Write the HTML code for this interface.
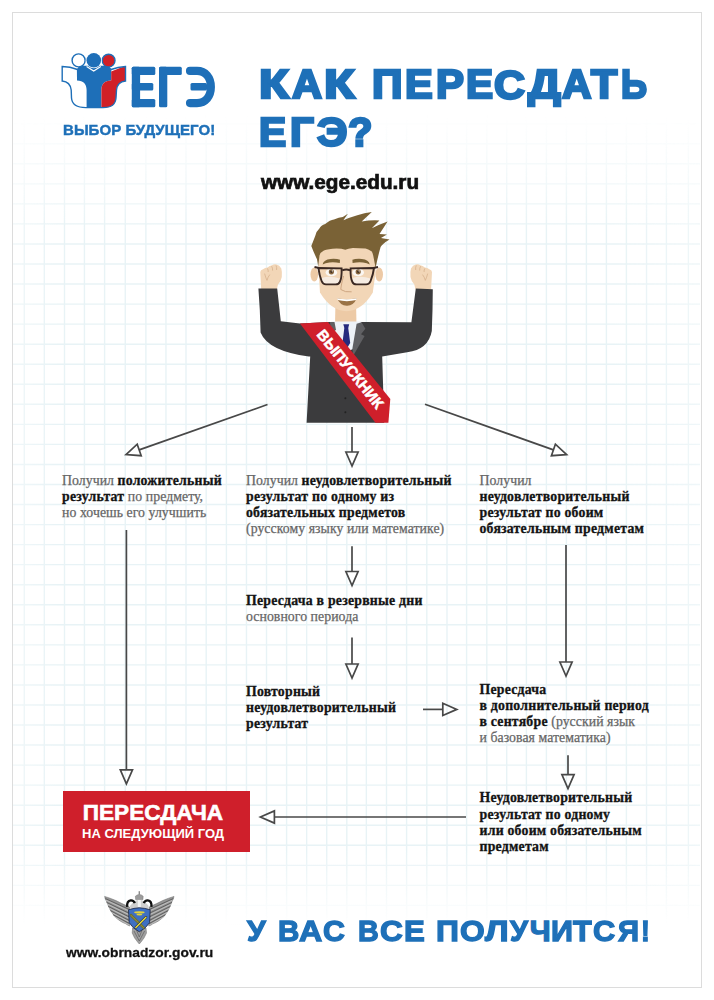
<!DOCTYPE html>
<html><head><meta charset="utf-8"><title>Как пересдать ЕГЭ?</title>
<style>
*{margin:0;padding:0;box-sizing:border-box}
html,body{width:714px;height:1000px;overflow:hidden;background:#fff}
body{position:relative;font-family:"Liberation Sans",sans-serif}
.abs{position:absolute;left:0;top:0}
.frame{position:absolute;left:12px;top:12px;width:690px;height:976px;border:1px solid #dcdcdc}
.t{position:absolute;white-space:nowrap}
.blue{color:#1e70b8}
.sans{font-family:"Liberation Sans",sans-serif;font-weight:700}
.ser{font-family:"Liberation Serif",serif;color:#666;letter-spacing:0.05px;-webkit-text-stroke:0.25px #666}
.ser b{color:#141414;font-weight:700;letter-spacing:0.22px;-webkit-text-stroke:0.3px #141414}
</style></head>
<body>
<svg class="abs" width="714" height="1000" viewBox="0 0 714 1000"><defs><linearGradient id="gv" x1="0" y1="0" x2="0" y2="1000" gradientUnits="userSpaceOnUse"><stop offset="0.115" stop-color="#fff" stop-opacity="0"/><stop offset="0.23" stop-color="#fff" stop-opacity="1"/><stop offset="0.85" stop-color="#fff" stop-opacity="1"/><stop offset="0.925" stop-color="#fff" stop-opacity="0"/></linearGradient><linearGradient id="gh" x1="0" y1="0" x2="714" y2="0" gradientUnits="userSpaceOnUse"><stop offset="0.0" stop-color="#fff" stop-opacity="0.55"/><stop offset="0.08" stop-color="#fff" stop-opacity="1"/><stop offset="0.86" stop-color="#fff" stop-opacity="1"/><stop offset="0.98" stop-color="#fff" stop-opacity="0.7"/></linearGradient><mask id="gm" maskUnits="userSpaceOnUse" x="0" y="0" width="714" height="1000"><rect x="0" y="0" width="714" height="1000" fill="url(#gv)"/></mask><mask id="gm2" maskUnits="userSpaceOnUse" x="0" y="0" width="714" height="1000"><rect x="0" y="0" width="714" height="1000" fill="url(#gh)"/></mask></defs><g mask="url(#gm)"><g mask="url(#gm2)" stroke="#e8f3f6" stroke-width="1.4"><line x1="24.30" y1="13" x2="24.30" y2="986"/><line x1="44.30" y1="13" x2="44.30" y2="986"/><line x1="64.50" y1="13" x2="64.50" y2="986"/><line x1="84.45" y1="13" x2="84.45" y2="986"/><line x1="104.60" y1="13" x2="104.60" y2="986"/><line x1="125.25" y1="13" x2="125.25" y2="986"/><line x1="145.90" y1="13" x2="145.90" y2="986"/><line x1="165.95" y1="13" x2="165.95" y2="986"/><line x1="186.00" y1="13" x2="186.00" y2="986"/><line x1="206.20" y1="13" x2="206.20" y2="986"/><line x1="226.40" y1="13" x2="226.40" y2="986"/><line x1="246.47" y1="13" x2="246.47" y2="986"/><line x1="266.53" y1="13" x2="266.53" y2="986"/><line x1="286.60" y1="13" x2="286.60" y2="986"/><line x1="306.67" y1="13" x2="306.67" y2="986"/><line x1="326.73" y1="13" x2="326.73" y2="986"/><line x1="346.80" y1="13" x2="346.80" y2="986"/><line x1="366.35" y1="13" x2="366.35" y2="986"/><line x1="386.50" y1="13" x2="386.50" y2="986"/><line x1="406.60" y1="13" x2="406.60" y2="986"/><line x1="426.80" y1="13" x2="426.80" y2="986"/><line x1="447.00" y1="13" x2="447.00" y2="986"/><line x1="466.60" y1="13" x2="466.60" y2="986"/><line x1="486.80" y1="13" x2="486.80" y2="986"/><line x1="506.70" y1="13" x2="506.70" y2="986"/><line x1="526.40" y1="13" x2="526.40" y2="986"/><line x1="546.40" y1="13" x2="546.40" y2="986"/><line x1="566.40" y1="13" x2="566.40" y2="986"/><line x1="586.40" y1="13" x2="586.40" y2="986"/><line x1="606.40" y1="13" x2="606.40" y2="986"/><line x1="626.40" y1="13" x2="626.40" y2="986"/><line x1="646.55" y1="13" x2="646.55" y2="986"/><line x1="666.40" y1="13" x2="666.40" y2="986"/><line x1="688.40" y1="13" x2="688.40" y2="986"/><line x1="13" y1="23.48" x2="700" y2="23.48"/><line x1="13" y1="43.53" x2="700" y2="43.53"/><line x1="13" y1="63.57" x2="700" y2="63.57"/><line x1="13" y1="83.62" x2="700" y2="83.62"/><line x1="13" y1="103.66" x2="700" y2="103.66"/><line x1="13" y1="123.70" x2="700" y2="123.70"/><line x1="13" y1="143.75" x2="700" y2="143.75"/><line x1="13" y1="163.79" x2="700" y2="163.79"/><line x1="13" y1="183.84" x2="700" y2="183.84"/><line x1="13" y1="203.88" x2="700" y2="203.88"/><line x1="13" y1="223.92" x2="700" y2="223.92"/><line x1="13" y1="243.97" x2="700" y2="243.97"/><line x1="13" y1="264.01" x2="700" y2="264.01"/><line x1="13" y1="284.06" x2="700" y2="284.06"/><line x1="13" y1="304.10" x2="700" y2="304.10"/><line x1="13" y1="324.14" x2="700" y2="324.14"/><line x1="13" y1="344.19" x2="700" y2="344.19"/><line x1="13" y1="364.23" x2="700" y2="364.23"/><line x1="13" y1="384.28" x2="700" y2="384.28"/><line x1="13" y1="404.32" x2="700" y2="404.32"/><line x1="13" y1="424.36" x2="700" y2="424.36"/><line x1="13" y1="444.41" x2="700" y2="444.41"/><line x1="13" y1="464.45" x2="700" y2="464.45"/><line x1="13" y1="484.50" x2="700" y2="484.50"/><line x1="13" y1="504.54" x2="700" y2="504.54"/><line x1="13" y1="524.58" x2="700" y2="524.58"/><line x1="13" y1="544.63" x2="700" y2="544.63"/><line x1="13" y1="564.67" x2="700" y2="564.67"/><line x1="13" y1="584.72" x2="700" y2="584.72"/><line x1="13" y1="604.76" x2="700" y2="604.76"/><line x1="13" y1="624.80" x2="700" y2="624.80"/><line x1="13" y1="644.85" x2="700" y2="644.85"/><line x1="13" y1="664.89" x2="700" y2="664.89"/><line x1="13" y1="684.94" x2="700" y2="684.94"/><line x1="13" y1="704.98" x2="700" y2="704.98"/><line x1="13" y1="725.02" x2="700" y2="725.02"/><line x1="13" y1="745.07" x2="700" y2="745.07"/><line x1="13" y1="765.11" x2="700" y2="765.11"/><line x1="13" y1="785.16" x2="700" y2="785.16"/><line x1="13" y1="805.20" x2="700" y2="805.20"/><line x1="13" y1="825.24" x2="700" y2="825.24"/><line x1="13" y1="845.29" x2="700" y2="845.29"/><line x1="13" y1="865.33" x2="700" y2="865.33"/><line x1="13" y1="885.38" x2="700" y2="885.38"/><line x1="13" y1="905.42" x2="700" y2="905.42"/><line x1="13" y1="925.46" x2="700" y2="925.46"/></g></g></svg>
<div class="frame"></div>
<svg class="abs" width="714" height="1000" viewBox="0 0 714 1000"><g stroke="#484848" stroke-width="1.7" fill="none" stroke-linejoin="miter"><line x1="267.5" y1="404.5" x2="139.2" y2="449.9"/><polygon points="126.0,454.6 137.2,444.2 141.2,455.7"/><line x1="352" y1="427" x2="352.0" y2="452.0"/><polygon points="352.0,466.0 345.9,452.0 358.1,452.0"/><line x1="425" y1="404.3" x2="553.4" y2="449.9"/><polygon points="566.6,454.6 551.4,455.7 555.4,444.2"/><line x1="126.4" y1="530" x2="126.4" y2="769.8"/><polygon points="126.4,783.8 120.3,769.8 132.5,769.8"/><line x1="352" y1="546.3" x2="352.0" y2="571.5"/><polygon points="352.0,585.5 345.9,571.5 358.1,571.5"/><line x1="352" y1="637.5" x2="352.0" y2="664.0"/><polygon points="352.0,678.0 345.9,664.0 358.1,664.0"/><line x1="566" y1="545" x2="566.0" y2="662.0"/><polygon points="566.0,676.0 559.9,662.0 572.1,662.0"/><line x1="423" y1="709.4" x2="442.8" y2="709.4"/><polygon points="456.8,709.4 442.8,715.5 442.8,703.3"/><line x1="568" y1="755.3" x2="568.0" y2="774.6"/><polygon points="568.0,788.6 561.9,774.6 574.1,774.6"/><line x1="466" y1="817" x2="274.4" y2="817.0"/><polygon points="260.4,817.0 274.4,810.9 274.4,823.1"/></g></svg>

<svg class="abs" width="714" height="1000" viewBox="0 0 714 1000">
<!-- fists -->
<path d="M261.2 289.5 L260.3 272 Q260.5 269.6 263 269.2 Q265 267.6 267.5 267.6 Q269.5 265.6 272 265.2 Q274 263.8 276.5 264.4 Q279.6 265 281.3 268.5 Q282.3 272 281.8 277 Q281 281.5 278 284.5 L276.8 289.5 Z" fill="#f2d6b7"/>
<path d="M264.6 273.6 Q265.6 277.5 267 280.4 Q267.8 277 269.8 274.6 M267.4 268.4 Q268.4 270 268.2 272 M271.6 266.2 Q272.8 268 272.6 270.6 M276 265.4 Q277 267.4 276.6 270" stroke="#d2ac86" stroke-width="0.7" fill="none"/>
<path d="M 431.1 289.5 L 432.0 272.0 Q 431.8 269.6 429.3 269.2 Q 427.3 267.6 424.8 267.6 Q 422.8 265.6 420.3 265.2 Q 418.3 263.8 415.8 264.4 Q 412.7 265.0 411.0 268.5 Q 410.0 272.0 410.5 277.0 Q 411.3 281.5 414.3 284.5 L 415.5 289.5 Z" fill="#f2d6b7"/>
<path d="M 427.7 273.6 Q 426.7 277.5 425.3 280.4 Q 424.5 277.0 422.5 274.6 M 424.9 268.4 Q 423.9 270.0 424.1 272.0 M 420.7 266.2 Q 419.5 268.0 419.7 270.6 M 416.3 265.4 Q 415.3 267.4 415.7 270.0" stroke="#d2ac86" stroke-width="0.7" fill="none"/>
<!-- neck -->
<path d="M335.5 300 L356 300 L356.5 326 L335 326 Z" fill="#edcaa6"/>
<!-- suit -->
<path d="M258.4 288.4 L277.2 288.4 L280.8 321.3 L300 323.6 L330 322 L362 322 L411.4 322.2 L415.8 288.6 L432.8 289.2 L432.5 310 L431.8 331 Q428.5 349.5 407.2 352.3 L382.2 356.4 L384.2 422.8 L306.6 422.8 L310.2 356.4 L308.8 356.4 Q268 351 260.6 332.4 L259.8 310 Z" fill="#3b3b3d"/>
<!-- shirt -->
<path d="M331 321.5 L361.5 321.5 L353 349 L346.5 352 L334 338 Z" fill="#eef2f7"/>
<!-- tie -->
<path d="M343.3 324.3 L349.2 324.3 L348.2 328 L344.4 328 Z" fill="#252a7e"/>
<path d="M344.4 327.6 L348.2 327.6 L350.2 343 L346.5 349 L342.4 343 Z" fill="#252a7e"/>
<!-- lapels -->
<path d="M356.6 323.8 L361.5 322.2 L365.4 328.8 L361 334.2 L364.6 336 L353.2 355.8 L352.4 348.6 Z" fill="#606063"/>
<path d="M330 322 L334.5 322 L336 330 L331 333 Z" fill="#606063"/>
<!-- sash -->
<path d="M299.9 323.4 L327.9 322 L390.3 399 L388.4 422.8 L375.4 422.8 Z" fill="#cf1f2b"/>
<text x="0" y="0" transform="translate(350.6 368.8) rotate(51.2)" text-anchor="middle" dominant-baseline="central" font-family="Liberation Sans" font-weight="700" font-size="15" fill="#fff" stroke="#fff" stroke-width="0.5">ВЫПУСКНИК</text>
<!-- buttons -->
<circle cx="345.4" cy="398.3" r="1" fill="#222"/>
<circle cx="345.4" cy="412.3" r="1" fill="#222"/>
<!-- ears -->
<ellipse cx="314.3" cy="274.5" rx="3.8" ry="7" fill="#edcaa6"/>
<ellipse cx="379.2" cy="274.5" rx="3.8" ry="7" fill="#edcaa6"/>
<!-- face -->
<path d="M318 244 L318.6 272 L320 292.5 Q331 310.8 346.5 311.2 Q362 310.8 372.8 292.5 L375.6 272 L376 244 Z" fill="#f2d6b7"/>
<!-- hair -->
<path d="M311.3 246 L315.2 236.1 Q316.5 231 319.4 228.6 Q321 225 325.2 223.9 Q330 220 334 219.5 Q339 217 342.8 217 L347.9 213.8 L343.4 220.3 Q357 214 371.8 211.9 L361.7 221.4 Q371 220 379.4 220.5 L371.8 228.3 Q380 224 387.6 221.4 L379.5 234 L386.9 234.6 L381 238 L389.5 239.5 Q382 244 380.6 247 Q378 256 375.6 268 L373.7 258 Q372.8 253 371.8 251.6 Q368 248.8 365.5 248.5 L352.9 247.9 Q348 248.5 345.3 249.8 Q342 248.5 336.5 248.5 Q328 249 323.9 250.4 Q320.5 252 319.5 255.4 L318.2 266.8 Q317.5 262 317 259.2 Q313.5 252 311.3 246 Z" fill="#7a6236"/>
<!-- eyebrows -->
<path d="M322.6 264.4 Q323.6 259.6 330.6 258.9 Q337 258.5 340 259.8 L339.8 263 Q334.5 262 329.4 262.5 Q325.2 263.1 322.6 264.4 Z" fill="#7a6236"/>
<path d="M 369.8 264.4 Q 368.8 259.6 361.8 258.9 Q 355.4 258.5 352.4 259.8 L 352.6 263.0 Q 357.9 262.0 363.0 262.5 Q 367.2 263.1 369.8 264.4 Z" fill="#7a6236"/>
<!-- eyes -->
<path d="M321.5 278 Q330 275.5 339.8 278.5 L339.2 282.5 Q338 284 335.6 284 L326 284 Q323 284 322 281 Z" fill="#f6ece2"/>
<path d="M352.5 278 Q361 275.5 370.6 278.5 L370 281 Q369 284 366.2 284 L356.6 284 Q354 284 353 282.5 Z" fill="#f6ece2"/>
<ellipse cx="331.4" cy="272.4" rx="5.8" ry="3.9" fill="#fbf7f2"/>
<ellipse cx="358.2" cy="272.4" rx="5.8" ry="3.9" fill="#fbf7f2"/>
<circle cx="331.4" cy="271.8" r="2.6" fill="#86653f"/>
<circle cx="358.2" cy="271.8" r="2.6" fill="#86653f"/>
<circle cx="331.4" cy="271.8" r="1.1" fill="#3a2a1e"/>
<circle cx="358.2" cy="271.8" r="1.1" fill="#3a2a1e"/>
<circle cx="332.3" cy="270.9" r="0.6" fill="#fff"/>
<circle cx="359.1" cy="270.9" r="0.6" fill="#fff"/>
<!-- glasses -->
<g fill="none" stroke="#3a2822" stroke-width="1.9">
<path d="M318.4 268 L341.6 268.4 C341.8 274 341.2 279.5 339.8 282 C339 283.8 337.6 284.4 335.6 284.4 L326 284.4 C323.6 284.4 322.4 283.2 321.6 281 C320 277 319 272.5 318.4 268 Z"/>
<path d="M374 268 L350.6 268.4 C350.4 274 351 279.5 352.4 282 C353.2 283.8 354.6 284.4 356.6 284.4 L366.2 284.4 C368.6 284.4 369.8 283.2 370.6 281 C372.2 277 373.4 272.5 374 268 Z"/>
<path d="M342.2 270.4 Q346.2 268.6 350.2 270.4"/>
<path d="M319 268 L314.5 267"/>
<path d="M373.6 268 L378 267"/>
</g>
<!-- nose -->
<path d="M343.6 276 Q341 285 340.8 289.5 Q345 292.6 351.6 291.8" fill="none" stroke="#c9a07c" stroke-width="0.9"/>
<!-- mouth -->
<path d="M337 298.3 Q346.8 300.3 356.8 298.3 Q353.5 306 346.8 305.8 Q340 305.6 337 298.3 Z" fill="#9a7346"/>
<path d="M337 298.3 Q346.8 300.3 356.8 298.3 L356.2 300 Q346.8 302.3 337.6 300 Z" fill="#fff"/>
</svg>

<svg class="abs" width="714" height="1000" viewBox="0 0 714 1000">
<defs><clipPath id="lsil"><path d="M62.2 66.5 C67 66.6 73 67.8 77.5 69.5 L80 66.5 L108 66.5 L111 69.5 C115 68 120 66.8 125.5 66.5 L125.5 81 C121 81.5 117 84 116.5 90 L116 98 C115.5 104.5 112 107.6 103 107.6 L86 107.6 C78 107.6 72 105 71.5 98 L71.2 90 C70.5 84 67 81.5 62.2 81 Z"/></clipPath></defs>
<path d="M62.2 66.5 C67 66.6 73 67.8 77.5 69.5 L80 66.5 L108 66.5 L111 69.5 C115 68 120 66.8 125.5 66.5 L125.5 81 C121 81.5 117 84 116.5 90 L116 98 C115.5 104.5 112 107.6 103 107.6 L86 107.6 C78 107.6 72 105 71.5 98 L71.2 90 C70.5 84 67 81.5 62.2 81 Z" fill="#fff"/>
<g clip-path="url(#lsil)">
<path d="M76.8 60 L111.5 60 L111.2 80.5 C104.5 80.8 101.4 84 101.4 90 L101.4 110 L86.6 110 L86.6 90 C86.6 84 83.5 80.8 77 80.5 Z" fill="#1e6fb8"/>
<path d="M111.2 71.5 L130 64 L130 110 L101.4 110 L101.4 90 C101.4 84 104.5 80.8 111.2 80.5 Z" fill="#d02027"/>
</g>
<path d="M62.2 66.5 C67 66.6 73 67.8 77.5 69.5 L80 66.5 L108 66.5 L111 69.5 C115 68 120 66.8 125.5 66.5 L125.5 81 C121 81.5 117 84 116.5 90 L116 98 C115.5 104.5 112 107.6 103 107.6 L86 107.6 C78 107.6 72 105 71.5 98 L71.2 90 C70.5 84 67 81.5 62.2 81 Z" fill="none" stroke="#1e6fb8" stroke-width="1.4"/>
<path d="M86.6 66.6 L93.7 71 L100.8 66.6" fill="none" stroke="#fff" stroke-width="1.2"/>
<circle cx="78.6" cy="60.4" r="6.5" fill="#fff" stroke="#1e6fb8" stroke-width="1.4"/>
<circle cx="108.6" cy="60.6" r="6.4" fill="#d02027" stroke="#1e6fb8" stroke-width="1.4"/>
<circle cx="93.8" cy="60.3" r="7.9" fill="#fff"/>
<circle cx="93.8" cy="60.3" r="7.3" fill="#1e6fb8"/>
<!-- ЕГЭ -->
<g fill="#1e6fb8">
<rect x="131.8" y="66.8" width="8.3" height="40.4" rx="1.5"/>
<rect x="131.8" y="66.8" width="23.5" height="8.1" rx="1.5"/>
<rect x="131.8" y="83" width="21.5" height="7.6" rx="1.5"/>
<rect x="131.8" y="99.1" width="23.5" height="8.1" rx="1.5"/>
<rect x="159" y="66.8" width="8.3" height="40.4" rx="1.5"/>
<rect x="159" y="66.8" width="22.8" height="8.1" rx="1.5"/>
<rect x="190.5" y="83" width="16.5" height="7.6" rx="1.5"/>
</g>
<path d="M190 70.9 L197 70.9 C205.5 70.9 210.9 77.5 210.9 87 C210.9 96.5 205.5 103.1 197 103.1 L190 103.1" fill="none" stroke="#1e6fb8" stroke-width="8.1" stroke-linecap="round"/>
</svg>
<svg class="abs" width="714" height="1000" viewBox="0 0 714 1000"><polygon points="104.6,896.4 110.0,898.2 116.0,900.6 122.0,903.6 129.5,907.0 129.8,926.0 127.5,925.0 125.8,923.8 123.0,922.6 120.2,921.0 117.5,919.0 114.6,916.4 112.3,913.2 110.0,909.6 108.3,905.8 106.7,901.8 105.3,899.0" fill="#959595" stroke="#6a6a6a" stroke-width="0.5"/><line x1="105.4" y1="898.6" x2="129.5" y2="909.6" stroke="#5a5a5a" stroke-width="0.9"/><line x1="106.0" y1="900.2" x2="129.5" y2="911.2" stroke="#d8d8d8" stroke-width="0.6"/><line x1="106.6" y1="902.4" x2="129.5" y2="913.4" stroke="#5a5a5a" stroke-width="0.9"/><line x1="107.2" y1="904.0" x2="129.5" y2="915.0" stroke="#d8d8d8" stroke-width="0.6"/><line x1="108.2" y1="906.4" x2="129.5" y2="917" stroke="#5a5a5a" stroke-width="0.9"/><line x1="108.8" y1="908.0" x2="129.5" y2="918.6" stroke="#d8d8d8" stroke-width="0.6"/><line x1="110.4" y1="910.6" x2="129.5" y2="920.6" stroke="#5a5a5a" stroke-width="0.9"/><line x1="111.0" y1="912.2" x2="129.5" y2="922.2" stroke="#d8d8d8" stroke-width="0.6"/><line x1="113.2" y1="914.8" x2="129.5" y2="923.6" stroke="#5a5a5a" stroke-width="0.9"/><line x1="113.8" y1="916.4" x2="129.5" y2="925.2" stroke="#d8d8d8" stroke-width="0.6"/><polygon points="174.0,896.4 168.6,898.2 162.6,900.6 156.6,903.6 149.1,907.0 148.8,926.0 151.1,925.0 152.8,923.8 155.6,922.6 158.4,921.0 161.1,919.0 164.0,916.4 166.3,913.2 168.6,909.6 170.3,905.8 171.9,901.8 173.3,899.0" fill="#959595" stroke="#6a6a6a" stroke-width="0.5"/><line x1="173.2" y1="898.6" x2="149.1" y2="909.6" stroke="#5a5a5a" stroke-width="0.9"/><line x1="172.6" y1="900.2" x2="149.1" y2="911.2" stroke="#d8d8d8" stroke-width="0.6"/><line x1="172.0" y1="902.4" x2="149.1" y2="913.4" stroke="#5a5a5a" stroke-width="0.9"/><line x1="171.4" y1="904.0" x2="149.1" y2="915.0" stroke="#d8d8d8" stroke-width="0.6"/><line x1="170.4" y1="906.4" x2="149.1" y2="917" stroke="#5a5a5a" stroke-width="0.9"/><line x1="169.8" y1="908.0" x2="149.1" y2="918.6" stroke="#d8d8d8" stroke-width="0.6"/><line x1="168.2" y1="910.6" x2="149.1" y2="920.6" stroke="#5a5a5a" stroke-width="0.9"/><line x1="167.6" y1="912.2" x2="149.1" y2="922.2" stroke="#d8d8d8" stroke-width="0.6"/><line x1="165.4" y1="914.8" x2="149.1" y2="923.6" stroke="#5a5a5a" stroke-width="0.9"/><line x1="164.8" y1="916.4" x2="149.1" y2="925.2" stroke="#d8d8d8" stroke-width="0.6"/>
<!-- tail -->
<path d="M132.6 928 L146 928 L146.5 933 L144 938 L141 942 L139.3 944 L137.6 942 L134.6 938 L132.2 933 Z" fill="#a0a0a0" stroke="#6a6a6a" stroke-width="0.5"/>
<path d="M134 931 L139.3 941 L144.6 931 M136.5 930 L139.3 937 L142.1 930" stroke="#5f5f5f" stroke-width="0.7" fill="none"/>
<!-- neck / chest -->
<path d="M130 906 Q134 901 137.2 900 L141.4 900 Q144.6 901 148.6 906 L148 910 L130.6 910 Z" fill="#cfcfcf"/>
<!-- heads -->
<path d="M127.2 906.8 Q126.6 900.9 130.8 900.3 Q133.8 900.2 134.8 903.2" fill="none" stroke="#111" stroke-width="2.3"/>
<path d="M151.4 906.8 Q152 900.9 147.8 900.3 Q144.8 900.2 143.8 903.2" fill="none" stroke="#111" stroke-width="2.3"/>
<!-- crown -->
<path d="M135.6 899.5 L135.4 896.2 Q137 894.6 139.3 894.4 Q141.6 894.6 143.2 896.2 L143 899.5 Z" fill="#9c9c9c" stroke="#666" stroke-width="0.4"/>
<rect x="138.6" y="891.2" width="1.4" height="3.6" fill="#8a8a8a"/>
<rect x="137.8" y="900" width="3" height="7" fill="#f4f4f4"/>
<!-- shield -->
<path d="M128.5 909.8 Q134 908 139.3 907.8 Q144.6 908 150.2 909.8 L149.6 922.6 Q146 928.5 139.3 931.8 Q132.6 928.5 129.2 922.6 Z" fill="#3f70c2" stroke="#1c2540" stroke-width="0.8"/>
<ellipse cx="139.4" cy="912.4" rx="5.2" ry="1.1" fill="#e4d43a"/>
<ellipse cx="139.4" cy="914.6" rx="3" ry="0.9" fill="#e4d43a"/>
<line x1="131" y1="915.2" x2="143.6" y2="927.6" stroke="#6b6a2a" stroke-width="2.6" stroke-linecap="round"/>
<line x1="131" y1="915.2" x2="143.6" y2="927.6" stroke="#8b8a3a" stroke-width="1.2" stroke-linecap="round"/>
<line x1="146" y1="917.2" x2="135.8" y2="927.4" stroke="#1c2540" stroke-width="2.4" stroke-linecap="round"/>
<line x1="146" y1="917.2" x2="135.8" y2="927.4" stroke="#eee23a" stroke-width="1.4" stroke-linecap="round"/>
</svg>
<div class="t sans" style="left:259.19px;top:64.15px;font-size:40.7px;line-height:40.7px;color:#1e70b8;-webkit-text-stroke:2.5px #1e70b8;transform:scaleX(1.2039);transform-origin:0 0;">К</div>
<div class="t sans" style="left:292.47px;top:64.15px;font-size:40.7px;line-height:40.7px;color:#1e70b8;-webkit-text-stroke:2.5px #1e70b8;transform:scaleX(1.0211);transform-origin:0 0;">А</div>
<div class="t sans" style="left:323.75px;top:64.15px;font-size:40.7px;line-height:40.7px;color:#1e70b8;-webkit-text-stroke:2.5px #1e70b8;transform:scaleX(1.2353);transform-origin:0 0;">К</div>
<div class="t sans" style="left:372.03px;top:64.15px;font-size:40.7px;line-height:40.7px;color:#1e70b8;-webkit-text-stroke:2.5px #1e70b8;transform:scaleX(1.0438);transform-origin:0 0;">П</div>
<div class="t sans" style="left:404.77px;top:64.15px;font-size:40.7px;line-height:40.7px;color:#1e70b8;-webkit-text-stroke:2.5px #1e70b8;transform:scaleX(1.0218);transform-origin:0 0;">Е</div>
<div class="t sans" style="left:435.75px;top:64.15px;font-size:40.7px;line-height:40.7px;color:#1e70b8;-webkit-text-stroke:2.5px #1e70b8;transform:scaleX(1.0314);transform-origin:0 0;">Р</div>
<div class="t sans" style="left:466.00px;top:64.15px;font-size:40.7px;line-height:40.7px;color:#1e70b8;-webkit-text-stroke:2.5px #1e70b8;transform:scaleX(0.9980);transform-origin:0 0;">Е</div>
<div class="t sans" style="left:494.47px;top:64.65px;font-size:40.7px;line-height:40.7px;color:#1e70b8;-webkit-text-stroke:2.5px #1e70b8;transform:scaleX(1.0564);transform-origin:0 0;">С</div>
<div class="t sans" style="left:528.13px;top:64.15px;font-size:40.7px;line-height:40.7px;color:#1e70b8;-webkit-text-stroke:2.5px #1e70b8;transform:scaleX(1.1311);transform-origin:0 0;">Д</div>
<div class="t sans" style="left:562.05px;top:64.15px;font-size:40.7px;line-height:40.7px;color:#1e70b8;-webkit-text-stroke:2.5px #1e70b8;transform:scaleX(1.0016);transform-origin:0 0;">А</div>
<div class="t sans" style="left:590.79px;top:64.15px;font-size:40.7px;line-height:40.7px;color:#1e70b8;-webkit-text-stroke:2.5px #1e70b8;transform:scaleX(1.0566);transform-origin:0 0;">Т</div>
<div class="t sans" style="left:620.86px;top:64.15px;font-size:40.7px;line-height:40.7px;color:#1e70b8;-webkit-text-stroke:2.5px #1e70b8;transform:scaleX(0.8909);transform-origin:0 0;">Ь</div>
<div class="t sans" style="left:259.40px;top:111.85px;font-size:40.7px;line-height:40.7px;color:#1e70b8;-webkit-text-stroke:2.5px #1e70b8;transform:scaleX(1.0020);transform-origin:0 0;">Е</div>
<div class="t sans" style="left:289.65px;top:111.85px;font-size:40.7px;line-height:40.7px;color:#1e70b8;-webkit-text-stroke:2.5px #1e70b8;transform:scaleX(1.0318);transform-origin:0 0;">Г</div>
<div class="t sans" style="left:316.53px;top:112.35px;font-size:40.7px;line-height:40.7px;color:#1e70b8;-webkit-text-stroke:2.5px #1e70b8;transform:scaleX(1.0517);transform-origin:0 0;">Э</div>
<div class="t sans" style="left:348.31px;top:112.35px;font-size:40.7px;line-height:40.7px;color:#1e70b8;-webkit-text-stroke:2.5px #1e70b8;transform:scaleX(0.9806);transform-origin:0 0;">?</div>
<div class="t sans" style="left:246.91px;top:916.00px;font-size:29.7px;line-height:29.7px;color:#1e70b8;-webkit-text-stroke:1.3px #1e70b8;transform:scaleX(1.0120);transform-origin:0 0;">У</div>
<div class="t sans" style="left:277.56px;top:916.00px;font-size:29.7px;line-height:29.7px;color:#1e70b8;-webkit-text-stroke:1.3px #1e70b8;transform:scaleX(0.9949);transform-origin:0 0;">В</div>
<div class="t sans" style="left:299.20px;top:916.00px;font-size:29.7px;line-height:29.7px;color:#1e70b8;-webkit-text-stroke:1.3px #1e70b8;transform:scaleX(1.0837);transform-origin:0 0;">А</div>
<div class="t sans" style="left:322.99px;top:916.25px;font-size:29.7px;line-height:29.7px;color:#1e70b8;-webkit-text-stroke:1.3px #1e70b8;transform:scaleX(1.0238);transform-origin:0 0;">С</div>
<div class="t sans" style="left:357.89px;top:916.00px;font-size:29.7px;line-height:29.7px;color:#1e70b8;-webkit-text-stroke:1.3px #1e70b8;transform:scaleX(0.9692);transform-origin:0 0;">В</div>
<div class="t sans" style="left:379.57px;top:916.25px;font-size:29.7px;line-height:29.7px;color:#1e70b8;-webkit-text-stroke:1.3px #1e70b8;transform:scaleX(1.0667);transform-origin:0 0;">С</div>
<div class="t sans" style="left:403.99px;top:916.00px;font-size:29.7px;line-height:29.7px;color:#1e70b8;-webkit-text-stroke:1.3px #1e70b8;transform:scaleX(1.0500);transform-origin:0 0;">Е</div>
<div class="t sans" style="left:436.26px;top:916.00px;font-size:29.7px;line-height:29.7px;color:#1e70b8;-webkit-text-stroke:1.3px #1e70b8;transform:scaleX(1.0720);transform-origin:0 0;">П</div>
<div class="t sans" style="left:459.77px;top:916.25px;font-size:29.7px;line-height:29.7px;color:#1e70b8;-webkit-text-stroke:1.3px #1e70b8;transform:scaleX(1.0682);transform-origin:0 0;">О</div>
<div class="t sans" style="left:485.17px;top:916.00px;font-size:29.7px;line-height:29.7px;color:#1e70b8;-webkit-text-stroke:1.3px #1e70b8;transform:scaleX(1.1350);transform-origin:0 0;">Л</div>
<div class="t sans" style="left:509.97px;top:916.00px;font-size:29.7px;line-height:29.7px;color:#1e70b8;-webkit-text-stroke:1.3px #1e70b8;transform:scaleX(0.9735);transform-origin:0 0;">У</div>
<div class="t sans" style="left:529.80px;top:916.00px;font-size:29.7px;line-height:29.7px;color:#1e70b8;-webkit-text-stroke:1.3px #1e70b8;transform:scaleX(1.0000);transform-origin:0 0;">Ч</div>
<div class="t sans" style="left:551.41px;top:916.00px;font-size:29.7px;line-height:29.7px;color:#1e70b8;-webkit-text-stroke:1.3px #1e70b8;transform:scaleX(1.0293);transform-origin:0 0;">И</div>
<div class="t sans" style="left:573.16px;top:916.00px;font-size:29.7px;line-height:29.7px;color:#1e70b8;-webkit-text-stroke:1.3px #1e70b8;transform:scaleX(1.0293);transform-origin:0 0;">Т</div>
<div class="t sans" style="left:593.38px;top:916.25px;font-size:29.7px;line-height:29.7px;color:#1e70b8;-webkit-text-stroke:1.3px #1e70b8;transform:scaleX(1.0381);transform-origin:0 0;">С</div>
<div class="t sans" style="left:617.89px;top:916.00px;font-size:29.7px;line-height:29.7px;color:#1e70b8;-webkit-text-stroke:1.3px #1e70b8;transform:scaleX(0.9854);transform-origin:0 0;">Я</div>
<div class="t sans" style="left:640.60px;top:916.00px;font-size:29.7px;line-height:29.7px;color:#1e70b8;-webkit-text-stroke:1.3px #1e70b8;transform:scaleX(0.8909);transform-origin:0 0;">!</div>
<div class="t sans" style="left:62.90px;top:123.07px;font-size:14.8px;line-height:14.8px;letter-spacing:0.05px;-webkit-text-stroke:0.45px #1e70b8;transform:scaleX(1.013);transform-origin:0 0;color:#1e70b8;">ВЫБОР БУДУЩЕГО!</div>
<div class="t sans" style="left:260.50px;top:173.44px;font-size:19.8px;line-height:19.8px;-webkit-text-stroke:0.7px #111;transform:scaleX(1.047);transform-origin:0 0;color:#111;">www.ege.edu.ru</div>
<div style="position:absolute;left:62.5px;top:790.5px;width:187.5px;height:61.5px;background:#cf1f2b"></div>
<div class="t sans" style="left:82.80px;top:802.47px;font-size:22.6px;line-height:22.6px;-webkit-text-stroke:0.6px #fff;color:#fff;">ПЕРЕСДАЧА</div>
<div class="t sans" style="left:82.00px;top:826.70px;font-size:13px;line-height:13px;color:#fff;">НА СЛЕДУЮЩИЙ ГОД</div>
<div class="t sans" style="left:65.60px;top:946.35px;font-size:13.65px;line-height:13.65px;-webkit-text-stroke:0.3px #111;transform:scaleX(1.012);transform-origin:0 0;color:#111;">www.obrnadzor.gov.ru</div>
<div class="t ser" style="left:62.00px;top:473.84px;font-size:13.8px;line-height:13.8px;">Получил <b>положительный</b></div>
<div class="t ser" style="left:62.00px;top:489.84px;font-size:13.8px;line-height:13.8px;"><b>результат</b> по предмету,</div>
<div class="t ser" style="left:62.00px;top:505.84px;font-size:13.8px;line-height:13.8px;">но хочешь его улучшить</div>
<div class="t ser" style="left:246.00px;top:473.94px;font-size:13.8px;line-height:13.8px;">Получил <b>неудовлетворительный</b></div>
<div class="t ser" style="left:246.00px;top:489.94px;font-size:13.8px;line-height:13.8px;"><b>результат по одному из</b></div>
<div class="t ser" style="left:246.00px;top:505.94px;font-size:13.8px;line-height:13.8px;"><b>обязательных предметов</b></div>
<div class="t ser" style="left:246.00px;top:521.94px;font-size:13.8px;line-height:13.8px;">(русскому языку или математике)</div>
<div class="t ser" style="left:479.50px;top:473.84px;font-size:13.8px;line-height:13.8px;">Получил</div>
<div class="t ser" style="left:479.50px;top:489.94px;font-size:13.8px;line-height:13.8px;"><b>неудовлетворительный</b></div>
<div class="t ser" style="left:479.50px;top:505.94px;font-size:13.8px;line-height:13.8px;"><b>результат по обоим</b></div>
<div class="t ser" style="left:479.50px;top:521.94px;font-size:13.8px;line-height:13.8px;"><b>обязательным предметам</b></div>
<div class="t ser" style="left:246.00px;top:593.94px;font-size:13.8px;line-height:13.8px;"><b>Пересдача в резервные дни</b></div>
<div class="t ser" style="left:246.00px;top:609.74px;font-size:13.8px;line-height:13.8px;">основного периода</div>
<div class="t ser" style="left:246.00px;top:684.94px;font-size:13.8px;line-height:13.8px;"><b>Повторный</b></div>
<div class="t ser" style="left:246.00px;top:700.94px;font-size:13.8px;line-height:13.8px;"><b>неудовлетворительный</b></div>
<div class="t ser" style="left:246.00px;top:717.04px;font-size:13.8px;line-height:13.8px;"><b>результат</b></div>
<div class="t ser" style="left:479.50px;top:683.04px;font-size:13.8px;line-height:13.8px;"><b>Пересдача</b></div>
<div class="t ser" style="left:479.50px;top:699.04px;font-size:13.8px;line-height:13.8px;"><b>в дополнительный период</b></div>
<div class="t ser" style="left:479.50px;top:715.04px;font-size:13.8px;line-height:13.8px;"><b>в сентябре</b> (русский язык</div>
<div class="t ser" style="left:479.50px;top:731.44px;font-size:13.8px;line-height:13.8px;">и базовая математика)</div>
<div class="t ser" style="left:479.50px;top:791.44px;font-size:13.8px;line-height:13.8px;"><b>Неудовлетворительный</b></div>
<div class="t ser" style="left:479.50px;top:807.94px;font-size:13.8px;line-height:13.8px;"><b>результат по одному</b></div>
<div class="t ser" style="left:479.50px;top:824.04px;font-size:13.8px;line-height:13.8px;"><b>или обоим обязательным</b></div>
<div class="t ser" style="left:479.50px;top:840.04px;font-size:13.8px;line-height:13.8px;"><b>предметам</b></div>
</body></html>
